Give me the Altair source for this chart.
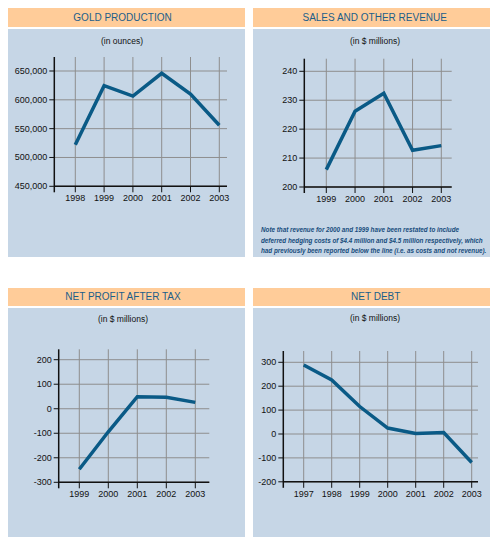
import altair as alt
import pandas as pd

# ---------------- data ----------------
gold_years = [1998, 1999, 2000, 2001, 2002, 2003]
gold_ounces = [522000, 624500, 606500, 646000, 610000, 556000]
gold_ticks = [450000, 500000, 550000, 600000, 650000]

sales_years = [1999, 2000, 2001, 2002, 2003]
sales_musd = [206.0, 226.2, 232.4, 212.7, 214.3]
sales_ticks = [200, 210, 220, 230, 240]

profit_years = [1999, 2000, 2001, 2002, 2003]
profit_musd = [-247, -94, 49, 47, 26]
profit_ticks = [-300, -200, -100, 0, 100, 200]

debt_years = [1997, 1998, 1999, 2000, 2001, 2002, 2003]
debt_musd = [289, 226, 115, 25, 2, 6, -119]
debt_ticks = [-200, -100, 0, 100, 200, 300]

titles = ["GOLD PRODUCTION", "SALES AND OTHER REVENUE", "NET PROFIT AFTER TAX", "NET DEBT"]
subtitles = ["(in ounces)", "(in $ millions)", "(in $ millions)", "(in $ millions)"]
note_lines = [
    "Note that revenue for 2000 and 1999 have been restated to include",
    "deferred hedging costs of $4.4 million and $4.5 million respectively, which",
    "had previously been reported below the line (i.e. as costs and not revenue).",
]

# ---------------- styling / layout ----------------
BLUE = "#C6D6E6"
ORANGE = "#FFCC99"
NAVY = "#1B5E8A"
NOTE = "#174C7C"
LINE = "#0A5A86"
GRID = "#8E8E8E"
INK = "#111111"
W, H = 482, 529
PW, PH = 237, 249
SANS = "Liberation Sans, Arial, sans-serif"

# pixel geometry of each panel (panel-local coordinates)
G_TL = dict(ox=0, oy=0, x0=46.3, x1=219.0, xa=(1998, 67.3), xb=(2003, 211.3),
            ytop=49.0, xaxis=178.3, ya=(450000, 178.3), yb=(650000, 63.0),
            hh=19, tx=114.5, ty=9.5, sx=114.0, sy=32.5)
G_TR = dict(ox=245, oy=0, x0=51.3, x1=198.7, xa=(1999, 73.3), xb=(2003, 188.3),
            ytop=50.7, xaxis=179.0, ya=(200, 179.0), yb=(240, 63.3),
            hh=19, tx=121.7, ty=9.5, sx=122.0, sy=32.5)
G_BL = dict(ox=0, oy=280, x0=50.7, x1=201.3, xa=(1999, 71.3), xb=(2003, 187.3),
            ytop=61.3, xaxis=194.3, ya=(200, 71.7), yb=(-300, 194.3),
            hh=18, tx=115.0, ty=8.5, sx=115.0, sy=30.5)
G_BR = dict(ox=245, oy=280, x0=30.3, x1=225.0, xa=(2000, 134.7), xb=(2001, 162.7),
            ytop=63.0, xaxis=193.8, ya=(300, 74.3), yb=(-200, 193.8),
            hh=18, tx=122.7, ty=8.5, sx=122.0, sy=30.0)


def lin(a, b, p0, p1):
    (va, pa), (vb, pb) = a, b
    k = (pb - pa) / (vb - va)
    return [va + (p0 - pa) / k, va + (p1 - pa) / k]


def fmt(v, comma):
    return f"{v:,}" if comma else f"{v}"


layers = []


def add_panel(years, values, yticks, comma, title, subtitle, g, note=None):
    ox, oy = g["ox"], g["oy"]
    X = lambda v: ox + v
    Y = lambda v: oy + v
    xs = alt.Scale(domain=lin(g["xa"], g["xb"], g["x0"], g["x1"]),
                   range=[X(g["x0"]), X(g["x1"])], nice=False, zero=False)
    ys = alt.Scale(domain=lin(g["ya"], g["yb"], g["xaxis"], g["ytop"]),
                   range=[Y(g["xaxis"]), Y(g["ytop"])], nice=False, zero=False)

    one = alt.Chart(pd.DataFrame({"t": [title], "s": [subtitle]}))
    # panel background, header band and white separator
    layers.append(one.mark_rect(color=BLUE).encode(
        x=alt.value(ox), x2=alt.value(ox + PW), y=alt.value(oy), y2=alt.value(oy + PH)))
    layers.append(one.mark_rect(color=ORANGE).encode(
        x=alt.value(ox), x2=alt.value(ox + PW), y=alt.value(oy), y2=alt.value(Y(g["hh"]))))
    layers.append(one.mark_rect(color="white").encode(
        x=alt.value(ox), x2=alt.value(ox + PW), y=alt.value(Y(g["hh"])),
        y2=alt.value(Y(g["hh"] + 2))))
    layers.append(one.mark_text(font=SANS, fontSize=10, color=NAVY, align="center",
                                baseline="middle").encode(
        text="t:N", x=alt.value(X(g["tx"])), y=alt.value(Y(g["ty"]))))
    layers.append(one.mark_text(font=SANS, fontSize=8.5, color=INK, align="center",
                                baseline="middle").encode(
        text="s:N", x=alt.value(X(g["sx"])), y=alt.value(Y(g["sy"]))))

    ydf = pd.DataFrame({"v": yticks, "lab": [fmt(v, comma) for v in yticks]})
    xdf = pd.DataFrame({"yr": years, "lab": [str(y) for y in years]})

    # grid lines
    layers.append(alt.Chart(ydf).mark_rule(color=GRID, strokeWidth=1).encode(
        y=alt.Y("v:Q", scale=ys, axis=None),
        x=alt.value(X(g["x0"])), x2=alt.value(X(g["x1"]))))
    layers.append(alt.Chart(xdf).mark_rule(color=GRID, strokeWidth=1).encode(
        x=alt.X("yr:Q", scale=xs, axis=None),
        y=alt.value(Y(g["ytop"])), y2=alt.value(Y(g["xaxis"]))))

    # axis lines
    layers.append(one.mark_rule(color=INK, strokeWidth=1.5).encode(
        x=alt.value(X(g["x0"])), y=alt.value(Y(g["ytop"])), y2=alt.value(Y(g["xaxis"]) + 6)))
    layers.append(one.mark_rule(color=INK, strokeWidth=1.5).encode(
        x=alt.value(X(g["x0"])), x2=alt.value(X(g["x1"])), y=alt.value(Y(g["xaxis"]))))

    # ticks
    layers.append(alt.Chart(ydf).mark_rule(color=INK, strokeWidth=1).encode(
        y=alt.Y("v:Q", scale=ys, axis=None),
        x=alt.value(X(g["x0"]) - 5), x2=alt.value(X(g["x0"]))))
    layers.append(alt.Chart(xdf).mark_rule(color=INK, strokeWidth=1).encode(
        x=alt.X("yr:Q", scale=xs, axis=None),
        y=alt.value(Y(g["xaxis"])), y2=alt.value(Y(g["xaxis"]) + 6)))

    # tick labels
    layers.append(alt.Chart(ydf).mark_text(font=SANS, fontSize=9, color=INK, align="right",
                                           baseline="middle").encode(
        y=alt.Y("v:Q", scale=ys, axis=None), text="lab:N",
        x=alt.value(X(g["x0"]) - 7)))
    layers.append(alt.Chart(xdf).mark_text(font=SANS, fontSize=9, color=INK, align="center",
                                           baseline="top").encode(
        x=alt.X("yr:Q", scale=xs, axis=None), text="lab:N",
        y=alt.value(Y(g["xaxis"]) + 8)))

    # the data line
    df = pd.DataFrame({"year": years, "value": values})
    layers.append(alt.Chart(df).mark_line(color=LINE, strokeWidth=3.5, strokeJoin="miter").encode(
        x=alt.X("year:Q", scale=xs, axis=None),
        y=alt.Y("value:Q", scale=ys, axis=None)))

    if note:
        layers.append(alt.Chart(pd.DataFrame({"n": ["\n".join(note)]})).mark_text(
            lineBreak="\n", lineHeight=10.5, align="left", baseline="alphabetic",
            font=SANS, fontStyle="italic", fontWeight="bold", fontSize=6.3,
            color=NOTE).encode(
            text="n:N", x=alt.value(X(8)), y=alt.value(Y(224))))


add_panel(gold_years, gold_ounces, gold_ticks, True, titles[0], subtitles[0], G_TL)
add_panel(sales_years, sales_musd, sales_ticks, False, titles[1], subtitles[1], G_TR, note_lines)
add_panel(profit_years, profit_musd, profit_ticks, False, titles[2], subtitles[2], G_BL)
add_panel(debt_years, debt_musd, debt_ticks, False, titles[3], subtitles[3], G_BR)

chart = alt.layer(*layers).resolve_scale(x="independent", y="independent").properties(
    width=W, height=H, padding=0, background="white",
    autosize=alt.AutoSizeParams(type="none"),
).configure_view(stroke="transparent", strokeWidth=0)

chart.save("out.html", embed_options={"renderer": "svg", "actions": False})
